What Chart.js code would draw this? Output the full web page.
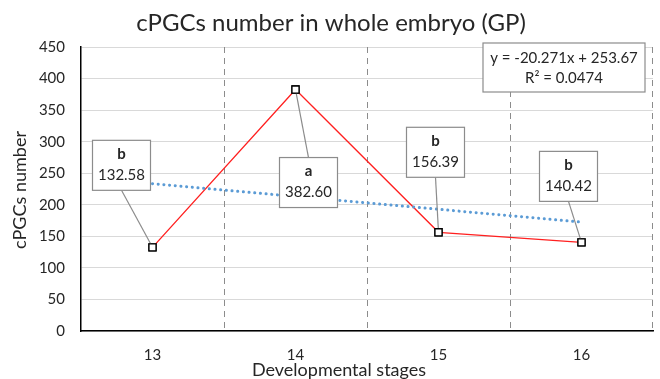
<!DOCTYPE html>
<html>
<head>
<meta charset="utf-8">
<script src="https://cdn.jsdelivr.net/npm/chart.js@4/dist/chart.umd.min.js"></script>
<style>
  html, body { margin: 0; padding: 0; background: #ffffff; }
  #wrap { width: 660px; height: 379px; }
</style>
</head>
<body>
<div id="wrap"><canvas id="c" width="660" height="379"></canvas></div>
<script>
// Developmental stages and cPGC counts (mean per embryo)
const stages = ['13', '14', '15', '16'];
const cpgcCounts = [132.58, 382.60, 156.39, 140.42];
const groupLetters = ['b', 'a', 'b', 'b'];
// Linear trend line y = -20.271x + 253.67 evaluated at stage index 1..4
const trendValues = [233.40, 213.13, 192.86, 172.59];
const trendEquation = 'y = -20.271x + 253.67';
const trendR2 = 'R² = 0.0474';
const yTicks = [0, 50, 100, 150, 200, 250, 300, 350, 400, 450];
const chartTitle = 'cPGCs number in whole embryo (GP)';
const xTitle = 'Developmental stages';
const yTitle = 'cPGCs number';

const FONT = 'Lato, "Open Sans", sans-serif';
const TEXT = '#262626';

// Callout boxes: offset of the box centre from its point, and leader anchor on the box
const callouts = [
  { dx: -31, dy: -82, anchor: 'bottom' },
  { dx: 13, dy: 93, anchor: 'top' },
  { dx: -3, dy: -80, anchor: 'bottom' },
  { dx: -13, dy: -66, anchor: 'bottom' }
];

// Titles drawn by hand so they can sit where the layout wants them
const titlesPlugin = {
  id: 'titles',
  afterDraw(chart) {
    const ctx = chart.ctx;
    ctx.save();
    ctx.fillStyle = TEXT;
    ctx.textAlign = 'center';
    ctx.textBaseline = 'middle';
    ctx.font = '24px ' + FONT;
    ctx.fillText(chartTitle, 331, 23);
    ctx.font = '18px ' + FONT;
    ctx.fillText(xTitle, 339, 370);
    ctx.translate(20, 190);
    ctx.rotate(-Math.PI / 2);
    ctx.fillText(yTitle, 0, 0);
    ctx.restore();
  }
};

const stageGridPlugin = {
  id: 'dashedStageGrid',
  beforeDatasetsDraw(chart) {
    // dashed separators between developmental stages and at the right edge
    const ctx = chart.ctx, x = chart.scales.x, a = chart.chartArea;
    ctx.save();
    ctx.strokeStyle = '#8c8c8c';
    ctx.lineWidth = 1;
    ctx.setLineDash([6, 5]);
    for (let i = 1; i <= stages.length; i++) {
      const gx = i < stages.length
        ? Math.round((x.getPixelForValue(i - 1) + x.getPixelForValue(i)) / 2) + 0.5
        : a.right - 0.5;
      ctx.beginPath();
      ctx.moveTo(gx, a.top);
      ctx.lineTo(gx, a.bottom);
      ctx.stroke();
    }
    ctx.restore();
  }
};

const calloutPlugin = {
  id: 'callouts',
  afterDatasetsDraw(chart) {
    const ctx = chart.ctx;
    const meta = chart.getDatasetMeta(1);
    const w = 58, h = 50;
    ctx.save();
    meta.data.forEach((pt, i) => {
      const c = callouts[i];
      const cx = pt.x + c.dx, cy = pt.y + c.dy;
      const ax = cx, ay = c.anchor === 'bottom' ? cy + h / 2 : cy - h / 2;
      // leader line
      ctx.strokeStyle = '#8c8c8c';
      ctx.lineWidth = 1.2;
      ctx.beginPath();
      ctx.moveTo(ax, ay);
      ctx.lineTo(pt.x, pt.y);
      ctx.stroke();
      // box
      ctx.fillStyle = '#ffffff';
      ctx.fillRect(cx - w / 2, cy - h / 2, w, h);
      ctx.strokeRect(cx - w / 2, cy - h / 2, w, h);
      ctx.fillStyle = TEXT;
      ctx.textAlign = 'center';
      ctx.textBaseline = 'middle';
      ctx.font = 'bold 15px ' + FONT;
      ctx.fillText(groupLetters[i], cx, cy - 11);
      ctx.font = '15px ' + FONT;
      ctx.fillText(cpgcCounts[i].toFixed(2), cx, cy + 10);
    });
    // markers above the leader lines
    meta.data.forEach(pt => pt.draw(ctx));
    // trend equation box
    const bx = 483, by = 43, bw = 162, bh = 49;
    ctx.fillStyle = '#ffffff';
    ctx.fillRect(bx, by, bw, bh);
    ctx.strokeStyle = '#8c8c8c';
    ctx.lineWidth = 1.2;
    ctx.strokeRect(bx, by, bw, bh);
    ctx.fillStyle = TEXT;
    ctx.font = '15px ' + FONT;
    ctx.textAlign = 'center';
    ctx.textBaseline = 'middle';
    ctx.fillText(trendEquation, bx + bw / 2, by + 15);
    ctx.fillText(trendR2, bx + bw / 2, by + 35);
    ctx.restore();
  }
};

new Chart(document.getElementById('c'), {
  type: 'line',
  data: {
    labels: stages,
    datasets: [
      {
        label: 'Linear trend',
        data: trendValues,
        borderColor: '#5b9bd5',
        borderWidth: 3,
        borderDash: [0.1, 5.6],
        borderCapStyle: 'round',
        pointRadius: 0,
        fill: false,
        tension: 0
      },
      {
        label: 'cPGCs number',
        data: cpgcCounts,
        borderColor: '#ff2020',
        borderWidth: 1.3,
        pointStyle: 'rect',
        pointRadius: 5,
        pointBackgroundColor: '#ffffff',
        pointBorderColor: '#000000',
        pointBorderWidth: 1.3,
        fill: false,
        tension: 0
      }
    ]
  },
  options: {
    responsive: false,
    animation: false,
    devicePixelRatio: 1,
    layout: { padding: { left: 0, right: 7, top: 47, bottom: 0 } },
    plugins: {
      legend: { display: false },
      tooltip: { enabled: false },
      title: { display: false }
    },
    scales: {
      x: {
        type: 'category',
        offset: true,
        grid: { display: false },
        border: { display: true, color: '#000000', width: 1.5 },
        ticks: { color: TEXT, font: { family: FONT, size: 15 }, padding: 7 },
        afterFit(scale) { scale.height = 48; }
      },
      y: {
        min: 0,
        max: 450,
        afterBuildTicks(scale) { scale.ticks = yTicks.map(v => ({ value: v })); },
        grid: { color: '#d9d9d9', lineWidth: 1, drawTicks: false },
        border: { display: true, color: '#000000', width: 1.5 },
        ticks: { color: TEXT, font: { family: FONT, size: 15 }, padding: 16 },
        afterFit(scale) { scale.width = 81; }
      }
    }
  },
  plugins: [stageGridPlugin, calloutPlugin, titlesPlugin]
});
</script>
</body>
</html>
